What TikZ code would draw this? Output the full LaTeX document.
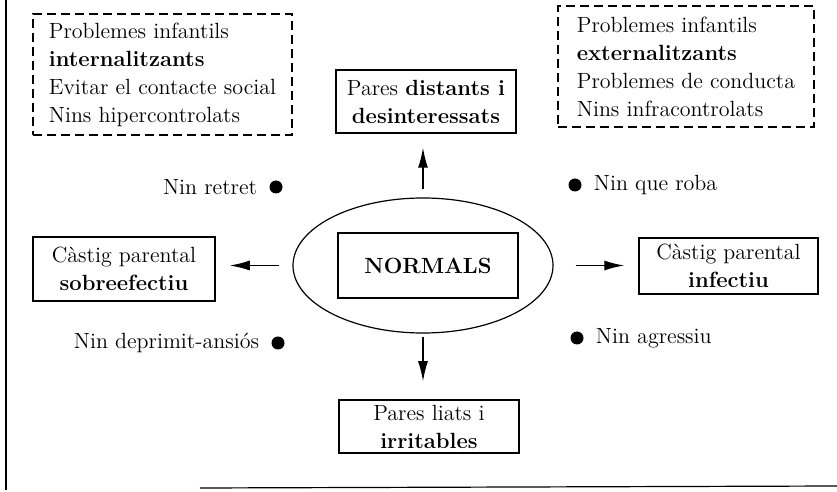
\documentclass[tikz,border=0pt]{standalone}
\usetikzlibrary{positioning,shapes.geometric,arrows.meta}

\begin{document}
\begin{tikzpicture}[x=0.5pt, y=-0.5pt, font=\fontsize{11}{14}\selectfont,
  box/.style={rectangle, draw=black, line width=0.75pt, align=center, inner sep=2pt},
  dbox/.style={rectangle, draw=black, line width=0.9pt, dash pattern=on 4.5pt off 2.5pt, align=left, minimum height=60.5pt},
  dot/.style={circle, fill=black, inner sep=0pt, minimum size=6.5pt},
  arr/.style={->, >={Latex[length=10pt,width=5pt]}, line width=0.7pt}]

\useasboundingbox (0,0) rectangle (837,492);

% frame of the page
\draw[line width=1pt] (6,0) -- (6,490);
\draw[line width=0.6pt] (200,488) -- (837,486);

% centre
\node (ell) at (423,265.5) [ellipse, draw=black, line width=0.6pt, minimum width=130pt, minimum height=67.5pt] {};
\node (normals) at (428,265.5) [box, minimum width=90pt, minimum height=32.5pt] {\textbf{NORMALS}};

% the four parenting styles
\node (distants) at (426,101.5) [box, minimum width=90pt, minimum height=31.5pt] {Pares \textbf{distants i}\\\textbf{desinteressats}};
\node (liats) at (429,426.5) [box, minimum width=90pt, minimum height=26.5pt] {Pares liats i\\\textbf{irritables}};
\node (sobre) at (124,269) [box, minimum width=91pt, minimum height=32pt] {Càstig parental\\\textbf{sobreefectiu}};
\node (infectiu) at (728.5,266) [box, minimum width=89.5pt, minimum height=28pt] {Càstig parental\\\textbf{infectiu}};

% child problems
\node (intern) at (162.5,74.5) [dbox, minimum width=129.5pt] {Problemes infantils\\\textbf{internalitzants}\\Evitar el contacte social\\Nins hipercontrolats};
\node (extern) at (686,66.5) [dbox, minimum width=128pt] {Problemes infantils\\\textbf{externalitzants}\\Problemes de conducta\\Nins infracontrolats};

% children
\node (retret) at (276,187) [dot] {};
\node (retret-l) [left=2.5pt of retret] {Nin retret};
\node (deprimit) at (278,343) [dot] {};
\node (deprimit-l) [left=2.5pt of deprimit] {Nin deprimit-ansiós};
\node (roba) at (575,185) [dot] {};
\node (roba-l) [right=2.5pt of roba] {Nin que roba};
\node (agressiu) at (577,338) [dot] {};
\node (agressiu-l) [right=2.5pt of agressiu] {Nin agressiu};

\draw[arr, shorten <=4pt, shorten >=7pt] (ell.north) -- (ell.north |- distants.south);
\draw[arr, shorten <=1.5pt, shorten >=9pt] (ell.south) -- (ell.south |- liats.north);
\draw[arr, shorten <=6.5pt, shorten >=7pt] (ell.west) -- (ell.west -| sobre.east);
\draw[arr, shorten <=11pt, shorten >=7pt] (ell.east) -- (ell.east -| infectiu.west);

\end{tikzpicture}
\end{document}
